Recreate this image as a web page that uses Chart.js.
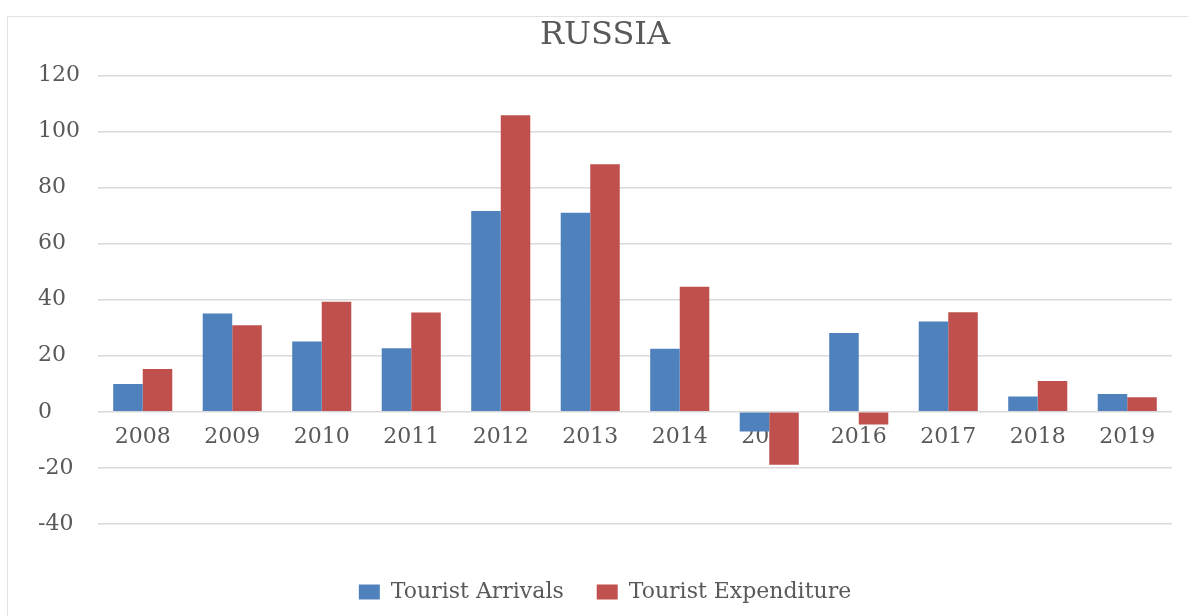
<!DOCTYPE html>
<html>
<head>
<meta charset="utf-8">
<script src="https://cdn.jsdelivr.net/npm/chart.js@4"></script>
<style>
  html, body { margin: 0; padding: 0; background: #fff; overflow: hidden; }
  #wrap { position: relative; width: 1188px; height: 616px; }
  #frame { position: absolute; left: 7px; top: 16px; width: 1300px; height: 700px; border: 1.5px solid #e2e2e2; }
  #chart { position: absolute; left: 0; top: 0; }
</style>
</head>
<body>
<div id="wrap">
  <div id="frame"></div>
  <canvas id="chart" width="1188" height="616"></canvas>
</div>
<script>
const years = ['2008', '2009', '2010', '2011', '2012', '2013', '2014', '2015', '2016', '2017', '2018', '2019'];
const touristArrivals = [9.9, 35.1, 25.1, 22.7, 71.6, 71.0, 22.5, -7.0, 28.1, 32.2, 5.5, 6.4];
const touristExpenditure = [15.3, 30.9, 39.3, 35.4, 105.8, 88.3, 44.6, -18.9, -4.5, 35.5, 11.0, 5.2];
const yTicks = [-40, -20, 0, 20, 40, 60, 80, 100, 120];

const textColor = '#595959';
const serif = 'DejaVu Serif';

const ctx = document.getElementById('chart').getContext('2d');

new Chart(ctx, {
  type: 'bar',
  data: {
    labels: years,
    datasets: [{
      label: 'Tourist Arrivals',
      data: touristArrivals,
      backgroundColor: '#4f81bd',
      barPercentage: 1,
      categoryPercentage: 0.66
    }, {
      label: 'Tourist Expenditure',
      data: touristExpenditure,
      backgroundColor: '#c0504d',
      barPercentage: 1,
      categoryPercentage: 0.66
    }]
  },
  options: {
    responsive: false,
    animation: false,
    layout: {
      padding: { top: 16, left: 38, right: 16, bottom: 3 }
    },
    plugins: {
      title: {
        display: true,
        text: 'RUSSIA',
        color: textColor,
        font: { family: serif, size: 32, weight: 'normal', lineHeight: 1.2 },
        padding: { top: 0, bottom: 21 }
      },
      // blank subtitle = spacer between plot and legend
      subtitle: {
        display: true,
        position: 'bottom',
        text: ' ',
        weight: 500,
        font: { size: 10, lineHeight: 1 },
        padding: { top: 0, bottom: 14 }
      },
      legend: {
        position: 'bottom',
        weight: 1000,
        labels: {
          color: textColor,
          font: { family: serif, size: 22 },
          boxWidth: 21,
          boxHeight: 15,
          padding: 33
        }
      },
      tooltip: { enabled: false }
    },
    scales: {
      x: {
        position: { y: 0 },
        grid: { display: false, drawTicks: false },
        border: { display: false },
        ticks: {
          color: textColor,
          font: { family: serif, size: 22 },
          padding: 12,
          maxRotation: 0
        }
      },
      y: {
        min: -40,
        max: 120,
        afterBuildTicks: (scale) => {
          scale.ticks = yTicks.map(v => ({ value: v }));
        },
        grid: { color: '#d9d9d9', lineWidth: 1.5, drawTicks: false },
        border: { display: false },
        ticks: {
          color: textColor,
          font: { family: serif, size: 22 },
          crossAlign: 'far',
          padding: 9
        }
      }
    }
  }
});
</script>
</body>
</html>
